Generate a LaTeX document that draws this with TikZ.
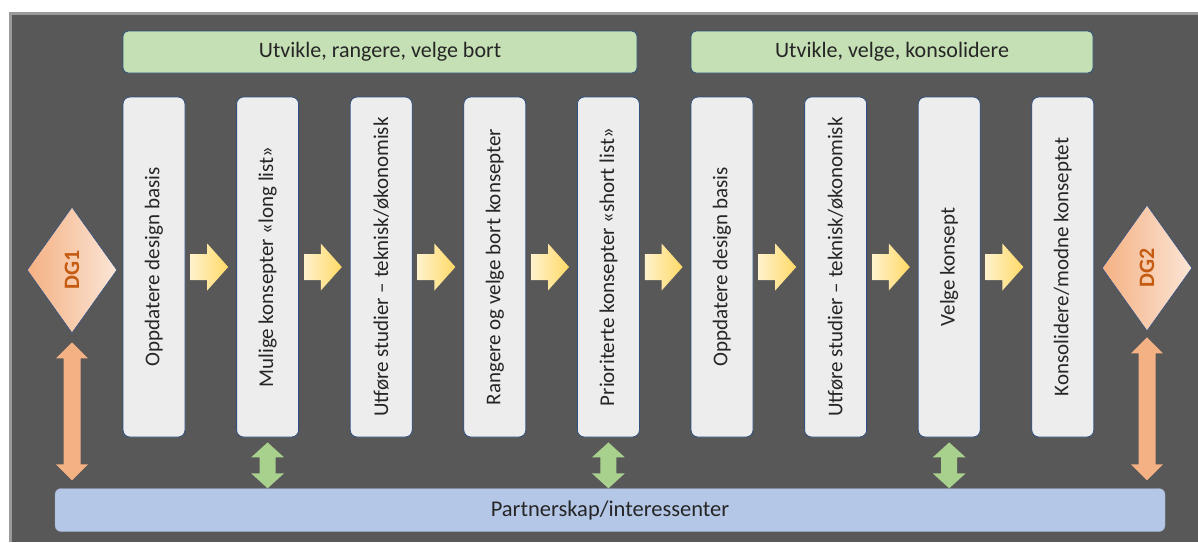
\documentclass[tikz,border=0pt]{standalone}
\usepackage{fontspec}
\setmainfont{Carlito}
\usetikzlibrary{shapes.geometric,calc}
\definecolor{bgdark}{HTML}{585858}
\definecolor{frameg}{HTML}{9A9A9A}
\definecolor{boxfill}{HTML}{EDEDED}
\definecolor{boxline}{HTML}{2F4F7F}
\definecolor{greenfill}{HTML}{C5E0B4}
\definecolor{bluefill}{HTML}{B4C7E7}
\definecolor{orangeA}{HTML}{F4B183}
\definecolor{orangeB}{HTML}{FBE5D6}
\definecolor{dgtext}{HTML}{C55A11}
\definecolor{yelA}{HTML}{FFF2CC}
\definecolor{yelB}{HTML}{FFD966}
\definecolor{grnA}{HTML}{A9D18E}
\definecolor{grnB}{HTML}{E2F0D9}
\definecolor{txt}{HTML}{262626}
\tikzset{
  header/.style={draw=boxline, line width=0.8pt, fill=greenfill, rounded corners=5pt, minimum height=42pt, inner sep=0pt, font=\fontsize{22}{26}\selectfont, text=txt},
  stepbox/.style={draw=boxline, line width=0.8pt, fill=boxfill, rounded corners=7pt, minimum width=62pt, minimum height=340pt, inner sep=0pt},
  vtext/.style={rotate=90, font=\fontsize{21}{25}\selectfont, text=txt, inner sep=0pt},
  gate/.style={diamond, draw=boxline, line width=0.6pt, left color=orangeA, right color=orangeB, minimum width=90pt, minimum height=126pt, inner sep=0pt, aspect=0.714},
  gatetext/.style={rotate=90, font=\fontsize{22}{26}\selectfont\bfseries, text=dgtext, inner sep=0pt},
  partner/.style={fill=bluefill, draw=bluefill!85!black, line width=0.4pt, rounded corners=6pt, minimum width=1110pt, minimum height=43pt, inner sep=0pt, font=\fontsize{22.5}{26}\selectfont, text=txt},
  yarrow/.style={left color=yelA, right color=yelB, draw=none},
  oarrow/.style={top color=orangeA, middle color=orangeB, bottom color=orangeA, draw=none},
  garrow/.style={top color=grnA, middle color=grnB, bottom color=grnA, draw=none},
}
% horizontal block arrow between two step boxes
\newcommand{\harr}[2]{\path[yarrow] let \p1=(#1.east), \p2=(#2.west) in
  (\x1+5pt,\y1+13pt) -- (\x2-29pt,\y1+13pt) -- (\x2-29pt,\y1+23.5pt) -- (\x2-8pt,\y1)
  -- (\x2-29pt,\y1-23.5pt) -- (\x2-29pt,\y1-13pt) -- (\x1+5pt,\y1-13pt) -- cycle;}
% vertical double arrow: #1 top point, #2 bottom point, #3 style, #4 half head, #5 half shaft, #6 head length
\newcommand{\vdarr}[6]{\path[#3] let \p1=(#1), \p2=(#2) in
  (\x1,\y1) -- (\x1+#4,\y1-#6) -- (\x1+#5,\y1-#6) -- (\x1+#5,\y2+#6) -- (\x1+#4,\y2+#6)
  -- (\x1,\y2) -- (\x1-#4,\y2+#6) -- (\x1-#5,\y2+#6) -- (\x1-#5,\y1-#6) -- (\x1-#4,\y1-#6) -- cycle;}
\begin{document}
\begin{tikzpicture}[x=1pt,y=-1pt]
\useasboundingbox (0,0) rectangle (1198,542);
\fill[white] (0,0) rectangle (1198,542);
\fill[bgdark] (9,12) rectangle (1198,542);
\fill[frameg] (9,12) rectangle (1198,15);
\fill[frameg] (9,12) rectangle (12,542);
% headers
\node[header, minimum width=514pt] (h1) at (380,52) {Utvikle, rangere, velge bort};
\node[header, minimum width=402pt] (h2) at (892,52) {Utvikle, velge, konsolidere};
% step boxes
\foreach \i/\t in {1/{Oppdatere design basis},2/{Mulige konsepter «long list»},3/{Utføre studier – teknisk/økonomisk},4/{Rangere og velge bort konsepter},5/{Prioriterte konsepter «short list»},6/{Oppdatere design basis},7/{Utføre studier – teknisk/økonomisk},8/{Velge konsept},9/{Konsolidere/modne konseptet}}{
  \node[stepbox] (b\i) at ({154+113.6*(\i-1)},267) {};
  \node[vtext] (t\i) at (b\i) {\t};
}
% gates
\node[gate] (dg1) at (72,270) {};
\node[gatetext] (dg1t) at (dg1) {DG1};
\node[gate] (dg2) at (1147,268) {};
\node[gatetext] (dg2t) at (dg2) {DG2};
% partner bar
\node[partner] (pb) at (610,510) {Partnerskap/interessenter};
% flow arrows
\foreach \a/\b in {1/2,2/3,3/4,4/5,5/6,6/7,7/8,8/9}{\harr{b\a}{b\b}}
% gate arrows
\vdarr{$(dg1.south)+(0pt,-9pt)$}{$(dg1.south |- pb.north)+(0pt,8pt)$}{oarrow}{16pt}{8.5pt}{16pt}
\vdarr{$(dg2.south)+(0pt,-6pt)$}{$(dg2.south |- pb.north)+(0pt,8pt)$}{oarrow}{16pt}{8.5pt}{16pt}
% partner arrows
\foreach \i in {2,5,8}{\vdarr{$(b\i.south)+(0pt,-5pt)$}{$(b\i.south |- pb.north)$}{garrow}{16.5pt}{8pt}{15pt}}
\end{tikzpicture}
\end{document}
